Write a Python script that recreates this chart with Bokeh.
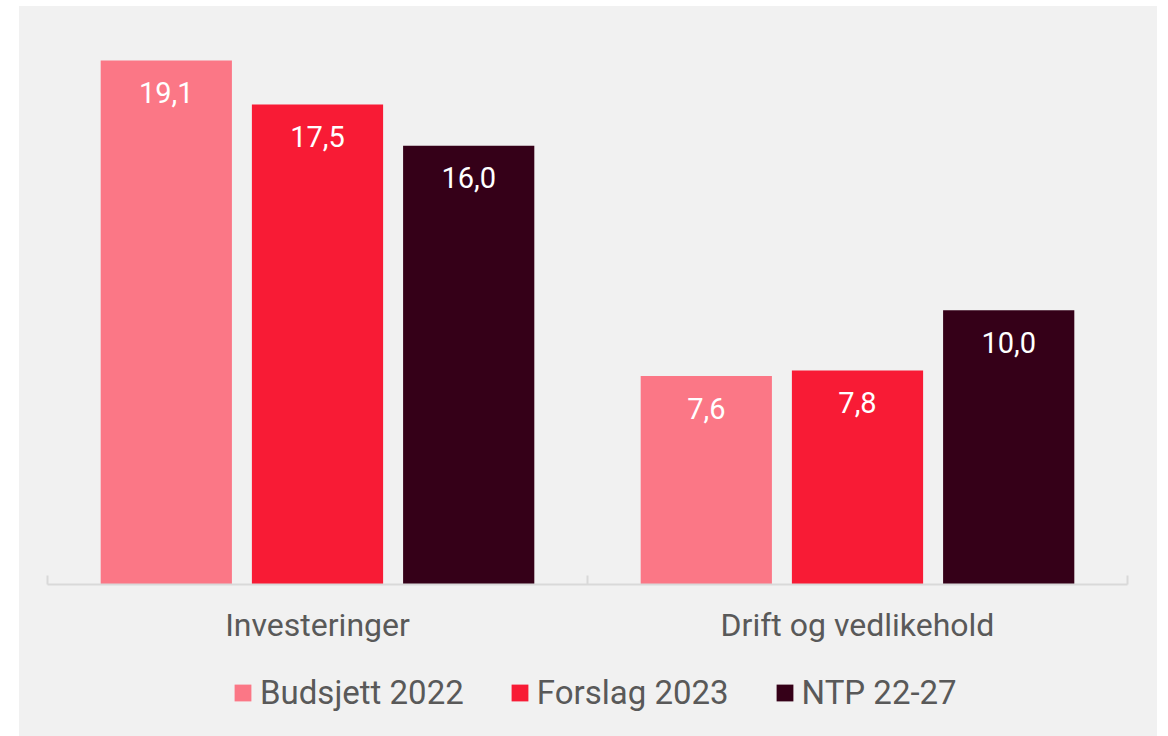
from bokeh.plotting import figure
from bokeh.models import ColumnDataSource, Range1d, FixedTicker, Legend, LegendItem
from bokeh.layouts import column
from bokeh.core.properties import value
from bokeh.embed import file_html
from bokeh.resources import INLINE

categories = ["Investeringer", "Drift og vedlikehold"]
series = ["Budsjett 2022", "Forslag 2023", "NTP 22-27"]
budsjett_2022 = [19.1, 7.6]
forslag_2023 = [17.5, 7.8]
ntp_22_27 = [16.0, 10.0]
colors = ["#fb7786", "#f81b35", "#350018"]

values = [budsjett_2022, forslag_2023, ntp_22_27]
offsets = [-0.28, 0.0, 0.28]
bar_width = 0.243

FONT = "Roboto"
BG = "#f1f1f1"
W = 1138

p = figure(width=W, height=654, output_backend="svg", toolbar_location=None,
           x_range=Range1d(0, len(categories)), y_range=Range1d(0, 21.0),
           y_axis_location=None, min_border_left=28, min_border_right=30,
           min_border_top=2, min_border_bottom=76)
p.background_fill_color = BG
p.border_fill_color = BG
p.outline_line_color = None
p.xgrid.visible = False
p.ygrid.visible = False

for name, vals, off, col in zip(series, values, offsets, colors):
    xs = [i + 0.5 + off for i in range(len(categories))]
    src = ColumnDataSource(dict(x=xs, top=vals,
                                lab=[f"{v:.1f}".replace(".", ",") for v in vals]))
    p.vbar(x="x", top="top", width=bar_width, bottom=0, source=src,
           fill_color=col, line_color=None)
    p.text(x="x", y="top", text="lab", source=src, text_color="white",
           text_font=value(FONT), text_font_size="29px", text_align="center",
           text_baseline="middle", y_offset=32)

ax = p.xaxis[0]
centers = [i + 0.5 for i in range(len(categories))]
bounds = [float(i) for i in range(len(categories) + 1)]
ax.ticker = FixedTicker(ticks=centers, minor_ticks=bounds)
ax.major_label_overrides = {c: lab for c, lab in zip(centers, categories)}
ax.major_tick_line_color = None
ax.minor_tick_in = 9
ax.minor_tick_out = 0
ax.minor_tick_line_color = "#d9d9d9"
ax.minor_tick_line_width = 2
ax.axis_line_color = "#d9d9d9"
ax.axis_line_width = 2
ax.major_label_text_font = FONT
ax.major_label_text_font_size = "32px"
ax.major_label_text_color = "#595959"
ax.major_label_standoff = 15

# legend strip below the chart (legend swatches only; proxy glyphs lie outside its view)
lg = figure(width=W, height=76, output_backend="svg", toolbar_location=None,
            x_range=Range1d(0, 1), y_range=Range1d(0, 1),
            x_axis_location=None, y_axis_location=None,
            min_border_left=0, min_border_right=0, min_border_top=0, min_border_bottom=0)
lg.background_fill_color = BG
lg.border_fill_color = BG
lg.outline_line_color = None
lg.xgrid.visible = False
lg.ygrid.visible = False

items = []
for name, col in zip(series, colors):
    r = lg.vbar(x=[-5.0], top=[0.0], bottom=0.0, width=0.1, fill_color=col, line_color=None)
    items.append(LegendItem(label=name, renderers=[r]))

legend = Legend(items=items, orientation="horizontal", location=(185, 24))
legend.background_fill_alpha = 0
legend.border_line_color = None
legend.label_text_font = FONT
legend.label_text_font_size = "33px"
legend.label_text_color = "#595959"
legend.glyph_width = 21
legend.glyph_height = 21
legend.label_standoff = 7
legend.spacing = 45
legend.padding = 0
legend.margin = 0
lg.add_layout(legend, "center")

layout = column(p, lg, spacing=0,
                styles={"margin-left": "19px", "margin-top": "6px", "background-color": BG})
open("out.html", "w").write(file_html(layout, INLINE))
